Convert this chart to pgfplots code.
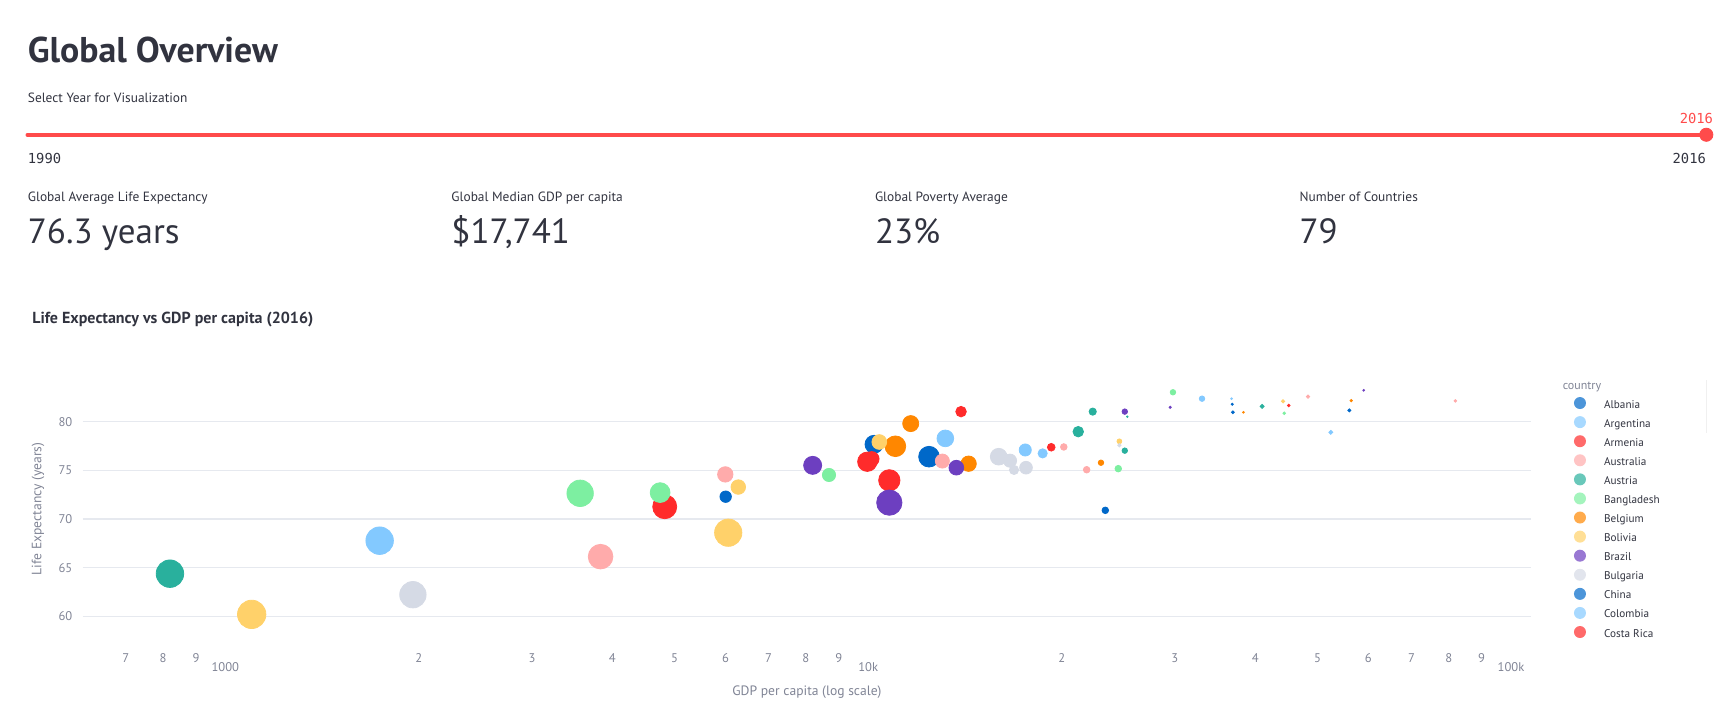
\documentclass[border=0pt]{standalone}
\usepackage{pgfplots}
\pgfplotsset{compat=1.18}
\usepackage{pgfplotstable}
\usepackage{fontspec}
\setmainfont{PT Sans}
\setmonofont{DejaVu Sans Mono}
\newcommand{\fsz}[1]{\fontsize{#1}{#1}\selectfont}
\definecolor{txt}{HTML}{31333F}
\definecolor{axt}{HTML}{808495}
\definecolor{grd}{HTML}{E6E9EF}
\definecolor{slid}{HTML}{FF4B4B}
\definecolor{c0}{HTML}{0068C9}
\definecolor{c1}{HTML}{83C9FF}
\definecolor{c2}{HTML}{FF2B2B}
\definecolor{c3}{HTML}{FFABAB}
\definecolor{c4}{HTML}{29B09D}
\definecolor{c5}{HTML}{7DEFA1}
\definecolor{c6}{HTML}{FF8700}
\definecolor{c7}{HTML}{FFD16A}
\definecolor{c8}{HTML}{6D3FC0}
\definecolor{c9}{HTML}{D5DAE5}

% x = GDP per capita, y = life expectancy, r = bubble radius (px), o = opacity
\pgfplotstableread{
x y r o
6002 72.29 5.2 0.7
10211 77.67 8.2 1.0
12434 76.40 9.4 1.0
23380 70.89 3.0 0.9
36840 81.79 1.0 0.9
36930 80.96 1.3 0.9
56030 81.16 1.4 0.9
}\tblA
\pgfplotstableread{
x y r o
1738 67.77 12.5 0.85
13183 78.28 7.6 0.85
17553 77.09 5.5 0.85
18683 76.74 4.2 0.85
33060 82.36 2.5 0.85
36750 82.36 0.8 0.85
52440 78.90 1.8 0.85
}\tblB
\pgfplotstableread{
x y r o
4825 71.26 10.9 0.85
9968 75.88 8.8 0.9
10127 76.17 6.7 0.9
10786 73.97 9.7 0.85
13946 81.03 4.8 0.9
19266 77.37 3.5 0.9
45100 81.67 1.2 0.9
}\tblC
\pgfplotstableread{
x y r o
3835 66.13 11.2 0.8
5994 74.58 7.0 0.85
13043 75.95 6.4 0.85
20150 77.40 3.0 0.85
21870 75.06 3.0 0.85
48330 82.57 1.5 0.85
81910 82.13 1.2 0.85
}\tblD
\pgfplotstableread{
x y r o
820 64.38 12.5 0.9
21220 78.97 4.8 0.9
22350 81.03 3.3 0.9
25070 77.02 2.5 0.9
25300 80.51 0.7 0.9
41000 81.57 1.8 0.9
}\tblE
\pgfplotstableread{
x y r o
3564 72.64 12.0 0.85
4746 72.71 9.0 0.85
8690 74.52 6.0 0.85
24490 75.17 3.0 0.85
29790 83.02 2.5 0.85
44370 80.86 1.2 0.85
}\tblF
\pgfplotstableread{
x y r o
11023 77.47 9.4 0.9
11645 79.80 7.3 0.9
14330 75.68 7.0 0.9
23020 75.78 2.5 0.9
38350 80.96 0.8 0.9
56410 82.16 1.1 0.9
}\tblG
\pgfplotstableread{
x y r o
1099 60.20 12.9 0.9
6280 73.28 6.6 0.85
6058 68.59 12.4 0.9
10406 77.91 6.7 0.75
24590 77.98 2.2 0.85
44190 82.09 1.5 0.85
}\tblH
\pgfplotstableread{
x y r o
8196 75.51 8.2 0.9
10786 71.68 11.5 0.95
13713 75.27 6.7 0.9
25070 81.03 2.5 0.9
29500 81.47 1.0 0.9
59000 83.22 0.8 0.9
}\tblI
\pgfplotstableread{
x y r o
1958 62.22 12.0 0.9
15960 76.40 7.6 0.9
16620 75.99 6.0 0.9
16860 75.04 4.2 0.9
17600 75.27 5.8 0.9
24590 77.57 1.5 0.9
}\tblJ

\pgfplotsset{
  bub/.style={forget plot, only marks, mark=*, color=#1, scatter,
    scatter/use mapped color={draw=#1, fill=#1},
    visualization depends on={\thisrow{r} \as \br},
    visualization depends on={\thisrow{o} \as \bo},
    scatter/@pre marker code/.append style={/tikz/mark size=0.55*\br, /tikz/fill opacity=\bo, /tikz/draw opacity=0},
  },
}

\begin{document}
\begin{tikzpicture}
\path[use as bounding box] (0,0) rectangle (862.4pt,351.45pt);

% header
\node[anchor=base west, inner sep=0pt, text=txt, font=\fsz{17.9}\bfseries] at (13.75pt,320.1pt) {Global Overview};
\node[anchor=base west, inner sep=0pt, text=txt, font=\fsz{6.7}] at (13.75pt,300.0pt) {Select Year for Visualization};

% slider
\begin{axis}[at={(13.75pt,283.08pt)}, anchor=south west, width=839.3pt, height=2pt,
  scale only axis, hide axis, xmin=1990, xmax=2016, ymin=-1, ymax=1, clip=false]
\addplot[slid, line width=2pt, line cap=round, mark=none] coordinates {(1990,0) (2016,0)};
\addplot[only marks, mark=*, mark size=3.3pt, slid] coordinates {(2016,0)};
\end{axis}
\node[anchor=base, inner sep=0pt, text=slid, font=\ttfamily\fsz{6.9}] at (848.1pt,289.85pt) {2016};
\node[anchor=base west, inner sep=0pt, text=txt, font=\ttfamily\fsz{6.9}] at (13.75pt,269.78pt) {1990};
\node[anchor=base east, inner sep=0pt, text=txt, font=\ttfamily\fsz{6.9}] at (853.05pt,269.78pt) {2016};

% metrics
\foreach \xx/\lab/\val in {13.75/Global Average Life Expectancy/76.3 years,
  225.5/Global Median GDP per capita/\$17{,}741,
  437.25/Global Poverty Average/23\%,
  649.55/Number of Countries/79}{
  \node[anchor=base west, inner sep=0pt, text=txt, font=\fsz{6.7}] at (\xx pt,250.8pt) {\lab};
  \node[anchor=base west, inner sep=0pt, text=txt, font=\fsz{17.5}] at (\xx pt,229.6pt) {\val};
}

% chart title
\node[anchor=base west, inner sep=0pt, text=txt, font=\fsz{8}\bfseries] at (15.95pt,189.5pt) {Life Expectancy vs GDP per capita (2016)};
\node[anchor=base west, inner sep=0pt, text=axt, font=\fsz{6}] at (781.1pt,156.8pt) {country};
\draw[black!6, line width=0.6pt] (853.3pt,161.5pt) -- (853.3pt,135pt);

\begin{axis}[
  at={(41.25pt,28.05pt)}, anchor=south west,
  width=724.35pt, height=138.05pt, scale only axis,
  xmode=log, log basis x=10,
  xmin=599.6, xmax=107570, ymin=56.86, ymax=85.23,
  clip=false,
  axis line style={draw=none}, tick style={draw=none},
  major tick length=0pt, minor tick length=0pt,
  ymajorgrids, xmajorgrids=false, xminorgrids=false,
  grid style={grd, line width=0.55pt},
  /pgf/number format/assume math mode=true,
  ytick={60,65,70,75,80},
  yticklabel style={font=\fsz{6.3}, text=axt, anchor=east, inner sep=0pt, xshift=-4.9pt},
  xtick={1000,10000,100000}, xticklabels={1000,10k,100k},
  xticklabel style={font=\fsz{6.3}, text=axt, anchor=base, inner sep=0pt, yshift=-12.4pt},
  extra x ticks={700,800,900,2000,3000,4000,5000,6000,7000,8000,9000,20000,30000,40000,50000,60000,70000,80000,90000},
  extra x tick labels={7,8,9,2,3,4,5,6,7,8,9,2,3,4,5,6,7,8,9},
  extra x tick style={tick label style={font=\fsz{5.4}, yshift=4.64pt}},
  xlabel={GDP per capita (log scale)},
  ylabel={Life Expectancy (years)},
  every axis x label/.style={at={([yshift=-24.1pt]axis description cs:0.5,0)}, anchor=base, inner sep=0pt, font=\fsz{6.8}, text=axt},
  every axis y label/.style={at={([xshift=-20.6pt]axis description cs:0,0.5)}, rotate=90, anchor=base, inner sep=0pt, font=\fsz{6.8}, text=axt},
  legend style={at={(1.02938,0.91275)}, anchor=north west, draw=none, fill=none,
    inner sep=0pt, outer sep=0pt, font=\fsz{5.6}, text=txt,
    column sep=7.07pt, row sep=-0.56pt, cells={anchor=mid west, inner sep=0pt}},
  legend image code/.code={\path[draw=none, fill=none] (0pt,-4.1pt) rectangle (6pt,4.1pt); \fill[#1, fill opacity=0.7] (3pt,0pt) circle (3pt);},
]
\addplot[bub=c0] table {\tblA};
\addplot[bub=c1] table {\tblB};
\addplot[bub=c2] table {\tblC};
\addplot[bub=c3] table {\tblD};
\addplot[bub=c4] table {\tblE};
\addplot[bub=c5] table {\tblF};
\addplot[bub=c6] table {\tblG};
\addplot[bub=c7] table {\tblH};
\addplot[bub=c8] table {\tblI};
\addplot[bub=c9] table {\tblJ};

\addlegendimage{fill=c0, draw=none}\addlegendentry{Albania}
\addlegendimage{fill=c1, draw=none}\addlegendentry{Argentina}
\addlegendimage{fill=c2, draw=none}\addlegendentry{Armenia}
\addlegendimage{fill=c3, draw=none}\addlegendentry{Australia}
\addlegendimage{fill=c4, draw=none}\addlegendentry{Austria}
\addlegendimage{fill=c5, draw=none}\addlegendentry{Bangladesh}
\addlegendimage{fill=c6, draw=none}\addlegendentry{Belgium}
\addlegendimage{fill=c7, draw=none}\addlegendentry{Bolivia}
\addlegendimage{fill=c8, draw=none}\addlegendentry{Brazil}
\addlegendimage{fill=c9, draw=none}\addlegendentry{Bulgaria}
\addlegendimage{fill=c0, draw=none}\addlegendentry{China}
\addlegendimage{fill=c1, draw=none}\addlegendentry{Colombia}
\addlegendimage{fill=c2, draw=none}\addlegendentry{Costa Rica}
\end{axis}
\end{tikzpicture}
\end{document}
